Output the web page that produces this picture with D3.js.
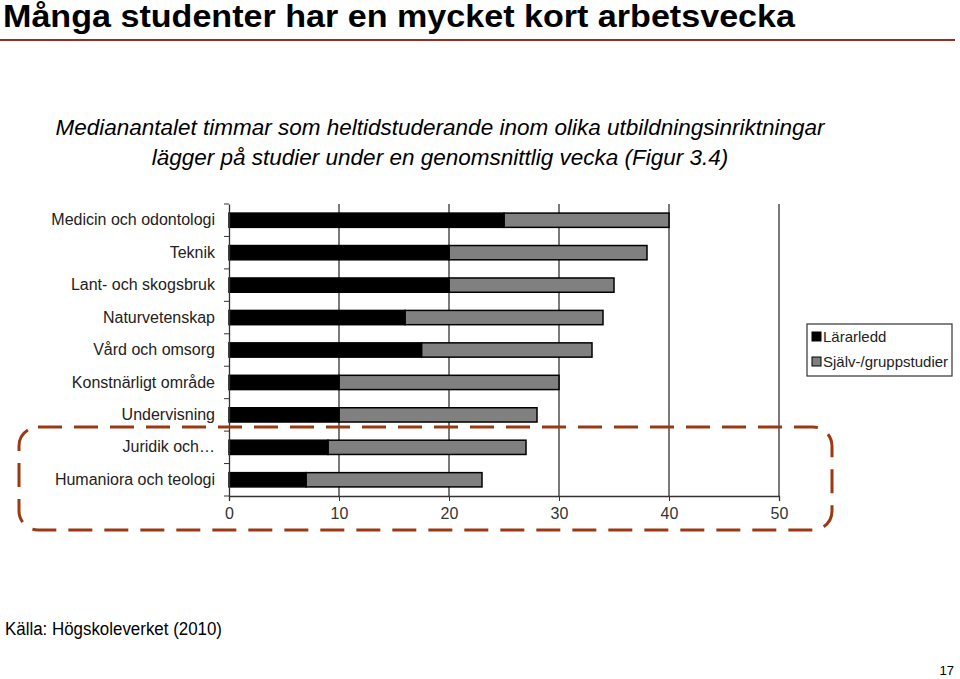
<!DOCTYPE html>
<html><head><meta charset="utf-8">
<script src="https://cdn.jsdelivr.net/npm/d3@7"></script>
<style>body{margin:0;background:#fff}svg{display:block}</style>
</head><body>
<script>
const categories = ["Medicin och odontologi","Teknik","Lant- och skogsbruk","Naturvetenskap","Vård och omsorg","Konstnärligt område","Undervisning","Juridik och\u2026","Humaniora och teologi"];
const lararledd = [25, 20, 20, 16, 17.5, 10, 10, 9, 7];
const sjalvstudier = [15, 18, 15, 18, 15.5, 20, 18, 18, 16];
const seriesNames = ["Lärarledd", "Själv-/gruppstudier"];
const xTicks = [0, 10, 20, 30, 40, 50];

const W = 960, H = 679;
const svg = d3.select("body").append("svg").attr("width", W).attr("height", H);

// Title
const title = svg.append("text").attr("x", 3).attr("y", 27)
  .attr("font-family", "'Liberation Sans Narrow', 'Arial Narrow', Arial, sans-serif")
  .attr("font-weight", "bold").attr("font-size", 31).attr("fill", "#000")
  .text("Många studenter har en mycket kort arbetsvecka");
const tw = title.node().getComputedTextLength();
if (Math.abs(tw - 792) > 20) title.attr("textLength", 792).attr("lengthAdjust", "spacingAndGlyphs");
svg.append("line").attr("x1", 0).attr("x2", 955).attr("y1", 40).attr("y2", 40)
  .attr("stroke", "#8f2f26").attr("stroke-width", 2);

// Subtitle
const sub = svg.append("g").attr("font-family", "Arial, 'Liberation Sans', sans-serif")
  .attr("font-style", "italic").attr("font-size", 22.5).attr("fill", "#000").attr("text-anchor", "middle");
sub.append("text").attr("x", 440).attr("y", 135).text("Medianantalet timmar som heltidstuderande inom olika utbildningsinriktningar");
sub.append("text").attr("x", 440).attr("y", 165).text("lägger på studier under en genomsnittlig vecka (Figur 3.4)");

// Chart
const x = d3.scaleLinear().domain([0, 50]).range([229, 779]);
const y = d3.scaleBand().domain(categories).range([204, 496]).paddingInner(0.56).paddingOuter(0.28);

const g = svg.append("g");
g.selectAll("line.grid").data(xTicks.slice(1)).join("line")
  .attr("x1", d => x(d)).attr("x2", d => x(d)).attr("y1", 204).attr("y2", 496)
  .attr("stroke", "#333").attr("stroke-width", 1.3);

const stacked = categories.map((c, i) => ({c, a: lararledd[i], b: sjalvstudier[i]}));
g.selectAll("rect.s").data(stacked).join("rect")
  .attr("x", d => x(d.a)).attr("y", d => y(d.c)).attr("width", d => x(d.a + d.b) - x(d.a))
  .attr("height", y.bandwidth()).attr("fill", "#808080").attr("stroke", "#000").attr("stroke-width", 1.5);
g.selectAll("rect.l").data(stacked).join("rect")
  .attr("x", x(0)).attr("y", d => y(d.c)).attr("width", d => x(d.a) - x(0))
  .attr("height", y.bandwidth()).attr("fill", "#000").attr("stroke", "#000").attr("stroke-width", 1.5);

// x axis
const xa = g.append("g").attr("transform", "translate(0,496)")
  .call(d3.axisBottom(x).tickValues(xTicks).tickSize(5).tickPadding(7));
xa.select(".domain").attr("stroke", "#333").attr("stroke-width", 1.3);
xa.selectAll(".tick line").attr("stroke", "#333");
xa.selectAll("text").attr("font-family", "Arial, 'Liberation Sans', sans-serif").attr("font-size", 16).attr("fill", "#333");

// y axis
const ya = g.append("g").attr("transform", "translate(229,0)")
  .call(d3.axisLeft(y).tickSize(0).tickPadding(14));
ya.select(".domain").attr("stroke", "#333").attr("stroke-width", 1.3);
ya.selectAll("text").attr("font-family", "Arial, 'Liberation Sans', sans-serif").attr("font-size", 16).attr("fill", "#222");
const sepTicks = d3.range(categories.length + 1).map(i => 204 + i * (292 / categories.length));
ya.selectAll("line.sep").data(sepTicks).join("line").attr("class", "sep")
  .attr("x1", -5).attr("x2", 0).attr("y1", d => d).attr("y2", d => d).attr("stroke", "#333");

// Legend
const lg = svg.append("g");
lg.append("rect").attr("x", 807).attr("y", 324).attr("width", 145).attr("height", 52)
  .attr("fill", "#fff").attr("stroke", "#333").attr("stroke-width", 1.2);
const lcols = ["#000", "#808080"];
seriesNames.forEach((n, i) => {
  const yy = 337 + i * 25;
  lg.append("rect").attr("x", 812).attr("y", yy - 5).attr("width", 9).attr("height", 9)
    .attr("fill", lcols[i]).attr("stroke", "#000").attr("stroke-width", 1);
  lg.append("text").attr("x", 823).attr("y", yy + 5).attr("font-family", "Arial, 'Liberation Sans', sans-serif")
    .attr("font-size", 15).attr("fill", "#222").text(n);
});

// Dashed highlight
svg.append("rect").attr("x", 19).attr("y", 427).attr("width", 813).attr("height", 103)
  .attr("rx", 19).attr("ry", 19).attr("fill", "none").attr("stroke", "#9b3a12")
  .attr("stroke-width", 3).attr("stroke-dasharray", "24,12");

// Source and page number
svg.append("text").attr("x", 5).attr("y", 635)
  .attr("font-family", "'Liberation Sans Narrow', 'Arial Narrow', Arial, sans-serif")
  .attr("font-size", 18).attr("fill", "#000")
  .attr("textLength", 217).attr("lengthAdjust", "spacingAndGlyphs")
  .text("Källa: Högskoleverket (2010)");
svg.append("text").attr("x", 954).attr("y", 675).attr("text-anchor", "end")
  .attr("font-family", "'Liberation Sans Narrow', 'Arial Narrow', Arial, sans-serif")
  .attr("font-size", 13).attr("fill", "#000").text("17");
</script>
</body></html>
